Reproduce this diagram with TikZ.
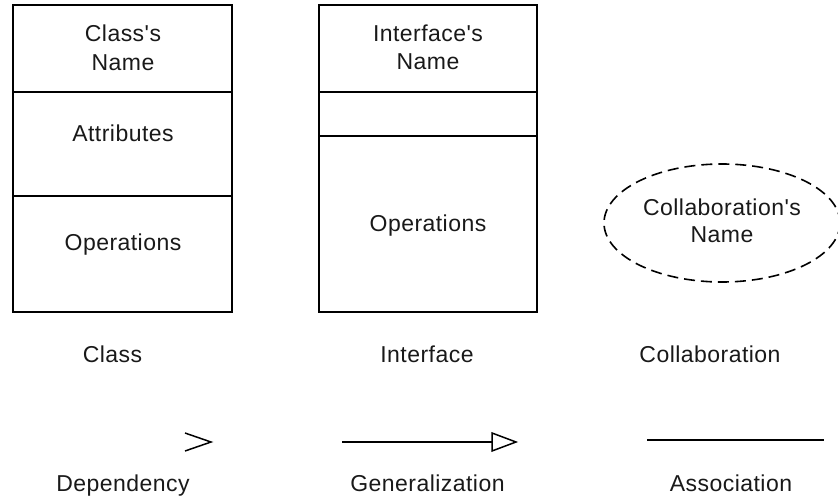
\documentclass[tikz,border=0pt]{standalone}
\usepackage{fontspec}
\setmainfont[LetterSpace=2,Ligatures=TeXOff]{Liberation Sans}
\begin{document}
\begin{tikzpicture}[x=1pt,y=-1pt,
  frame/.style={draw=black,line width=2pt},
  lbl/.style={anchor=base,inner sep=0pt,font=\fontsize{23}{28}\selectfont,text=black!90},
  thinline/.style={draw=black,line width=1.5pt},
  collab/.style={draw=black,line width=1.6pt,dash pattern=on 11pt off 6pt}]
  \useasboundingbox (0,0) rectangle (838,498);

  % Class symbol: name, attributes, operations
  \draw[frame] (13,5) rectangle (232,312);
  \draw[frame] (13,92) -- (232,92);
  \draw[frame] (13,196) -- (232,196);
  \node[lbl] (cls-n1) at (123,41.5) {Class's};
  \node[lbl] (cls-n2) at (123,70) {Name};
  \node[lbl] (cls-att) at (123,141.5) {Attributes};
  \node[lbl] (cls-ops) at (123,250.5) {Operations};

  % Interface symbol: name, empty attribute band, operations
  \draw[frame] (319,5) rectangle (537,312);
  \draw[frame] (319,92) -- (537,92);
  \draw[frame] (319,136) -- (537,136);
  \node[lbl] (ifc-n1) at (428,41.5) {Interface's};
  \node[lbl] (ifc-n2) at (428,69) {Name};
  \node[lbl] (ifc-ops) at (428,231) {Operations};

  % Collaboration symbol: dashed ellipse
  \draw[collab] (722,223) ellipse [x radius=118, y radius=59];
  \node[lbl] (col-n1) at (722,215) {Collaboration's};
  \node[lbl] (col-n2) at (722,242.5) {Name};

  % Captions of the three things
  \node[lbl] (cap-class) at (112.5,362) {Class};
  \node[lbl] (cap-ifc) at (427,362) {Interface};
  \node[lbl] (cap-col) at (710,362) {Collaboration};

  % Relationship samples
  \coordinate (dep-a) at (185,433);
  \coordinate (dep-tip) at (211,442);
  \coordinate (dep-b) at (185,451);
  \draw[thinline,line join=miter] (dep-a) -- (dep-tip) -- (dep-b);

  \coordinate (gen-start) at (342,442);
  \coordinate (gen-base) at (492,442);
  \coordinate (gen-tip) at (516,442);
  \draw[thinline] (gen-start) -- (gen-base);
  \draw[thinline,line join=miter] (gen-base) -- ++(0,-9) -- (gen-tip) -- (492,451) -- cycle;

  \coordinate (asc-start) at (647,440);
  \coordinate (asc-end) at (824,440);
  \draw[frame] (asc-start) -- (asc-end);

  % Captions of the relationships
  \node[lbl] (cap-dep) at (123,491) {Dependency};
  \node[lbl] (cap-gen) at (427.5,491) {Generalization};
  \node[lbl] (cap-asc) at (731,491) {Association};
\end{tikzpicture}
\end{document}
